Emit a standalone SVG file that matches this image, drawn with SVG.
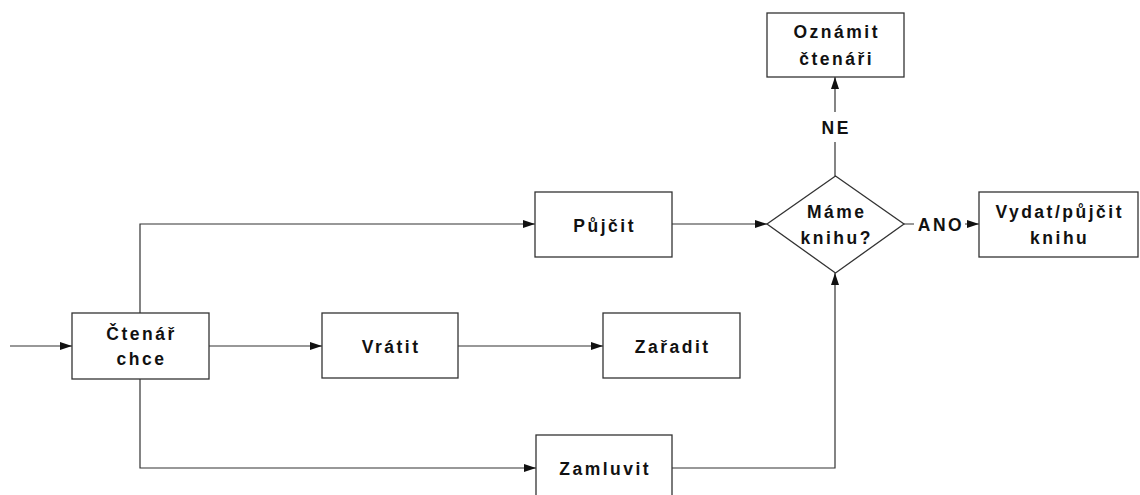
<svg xmlns="http://www.w3.org/2000/svg" width="1140" height="495" viewBox="0 0 1140 495">
<style>
.box{fill:#fff;stroke:#333;stroke-width:1.3}
.t{font-family:"Liberation Sans",Arial,sans-serif;font-weight:bold;font-size:17.5px;letter-spacing:2.5px;fill:#111;text-anchor:middle}
.c{fill:none;stroke:#333;stroke-width:1.2}
.lbl{fill:#fff;stroke:none}
</style>
<defs>
<marker id="ah" viewBox="0 0 12 8" refX="12" refY="4" markerWidth="12" markerHeight="8" markerUnits="userSpaceOnUse" orient="auto">
<path d="M0,0 L12,4 L0,8 Z" fill="#111"/>
</marker>
</defs>
<rect width="1140" height="495" fill="#fff"/>
<g id="connectors">
<line class="c" x1="10" y1="346" x2="72" y2="346" marker-end="url(#ah)"/>
<line class="c" x1="209" y1="346" x2="322" y2="346" marker-end="url(#ah)"/>
<line class="c" x1="458" y1="346" x2="603" y2="346" marker-end="url(#ah)"/>
<polyline class="c" points="140,313 140,224 535,224" marker-end="url(#ah)"/>
<polyline class="c" points="140,379 140,468 536,468" marker-end="url(#ah)"/>
<line class="c" x1="672" y1="224" x2="767" y2="224" marker-end="url(#ah)"/>
<polyline class="c" points="672,468 835,468 835,273" marker-end="url(#ah)"/>
<line class="c" x1="835" y1="176" x2="835" y2="77" marker-end="url(#ah)"/>
<line class="c" x1="904" y1="224" x2="979" y2="224" marker-end="url(#ah)"/>
<rect class="lbl" x="819" y="112" width="32" height="30"/>
<text class="t" x="836.2" y="134">NE</text>
<rect class="lbl" x="914" y="211" width="51" height="25"/>
<text class="t" x="941" y="230.5">ANO</text>
</g>
<g id="n-ctenar"><rect class="box" x="72" y="313" width="137" height="66"/><text class="t" x="141.5" y="339.5">Čtenář</text><text class="t" x="141.5" y="365">chce</text></g>
<g id="n-vratit"><rect class="box" x="322" y="313" width="136" height="65"/><text class="t" x="391.2" y="352.5">Vrátit</text></g>
<g id="n-zaradit"><rect class="box" x="603" y="313" width="137" height="65"/><text class="t" x="672.7" y="352.5">Zařadit</text></g>
<g id="n-pujcit"><rect class="box" x="535" y="192" width="137" height="65"/><text class="t" x="604.7" y="231.5">Půjčit</text></g>
<g id="n-zamluvit"><rect class="box" x="536" y="435" width="136" height="65"/><text class="t" x="605.2" y="474.5">Zamluvit</text></g>
<g id="n-mame"><polygon class="box" points="835.5,176 904,224 835.5,273 767,224"/><text class="t" x="836.7" y="217.5">Máme</text><text class="t" x="836.7" y="243.5">knihu?</text></g>
<g id="n-oznamit"><rect class="box" x="767" y="13" width="137" height="64"/><text class="t" x="836.7" y="38">Oznámit</text><text class="t" x="836.7" y="65">čtenáři</text></g>
<g id="n-vydat"><rect class="box" x="979" y="192" width="159" height="65"/><text class="t" x="1059.7" y="218">Vydat/půjčit</text><text class="t" x="1059.7" y="243.5">knihu</text></g>
</svg>
